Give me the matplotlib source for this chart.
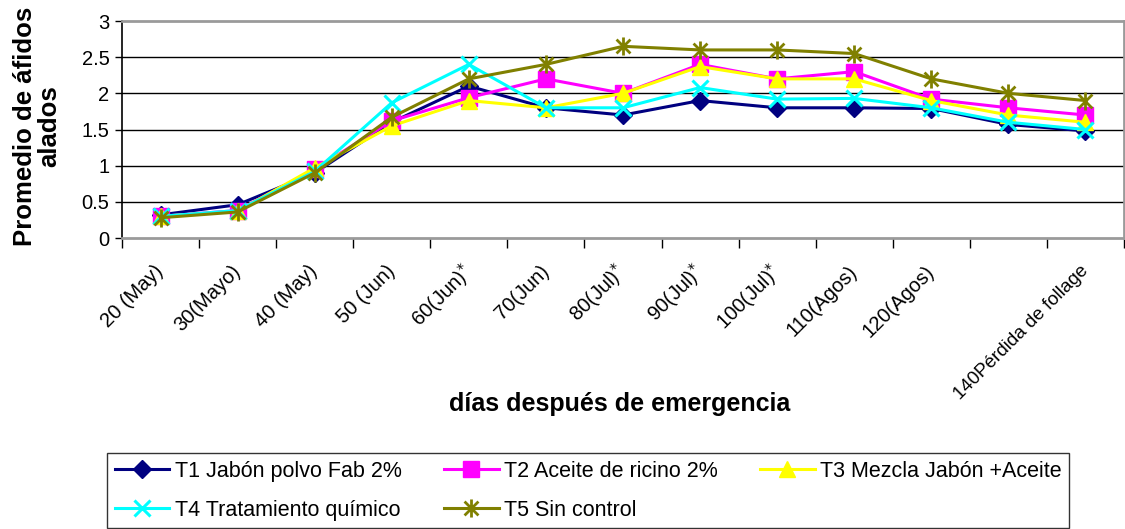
import numpy as np
import matplotlib.pyplot as plt
from matplotlib.path import Path

plt.rcParams['font.family'] = ['Liberation Sans', 'DejaVu Sans']

categorias = ['20 (May)', '30(Mayo)', '40 (May)', '50 (Jun)', '60(Jun)$^{*}$', '70(Jun)',
              '80(Jul)$^{*}$', '90(Jul)$^{*}$', '100(Jul)$^{*}$', '110(Agos)', '120(Agos)', '',
              '140Pérdida de follage']

t1 = [0.32, 0.46, 0.90, 1.60, 2.10, 1.80, 1.70, 1.90, 1.80, 1.80, 1.79, 1.57, 1.48]
t2 = [0.30, 0.38, 0.95, 1.62, 1.94, 2.20, 2.00, 2.40, 2.20, 2.30, 1.92, 1.80, 1.70]
t3 = [0.30, 0.37, 0.97, 1.55, 1.90, 1.80, 2.00, 2.37, 2.20, 2.20, 1.90, 1.70, 1.60]
t4 = [0.30, 0.38, 0.92, 1.87, 2.40, 1.80, 1.80, 2.08, 1.92, 1.93, 1.80, 1.60, 1.50]
t5 = [0.28, 0.36, 0.90, 1.67, 2.20, 2.40, 2.65, 2.60, 2.60, 2.55, 2.20, 2.00, 1.90]

nombres = ['T1 Jabón polvo Fab 2%', 'T2 Aceite de ricino 2%', 'T3 Mezcla Jabón +Aceite',
           'T4 Tratamiento químico', 'T5 Sin control']

# marcador asterisco tipo Excel: X con línea vertical
asterisco = Path([(-1, -1), (1, 1), (-1, 1), (1, -1), (0, -1.3), (0, 1.3)],
                 [Path.MOVETO, Path.LINETO, Path.MOVETO, Path.LINETO, Path.MOVETO, Path.LINETO])

W, H = 1125, 529
fig = plt.figure(figsize=(W / 100, H / 100), dpi=100)
ax = fig.add_axes([122 / W, 1 - 238 / H, (1124 - 122) / W, (238 - 21) / H])

x = np.arange(len(categorias))
estilos = [
    dict(color='#000080', marker='D', ms=9, mec='#000080', mfc='#000080'),
    dict(color='#FF00FF', marker='s', ms=11, mec='#FF00FF', mfc='#FF00FF'),
    dict(color='#FFFF00', marker='^', ms=12, mec='#FFFF00', mfc='#FFFF00'),
    dict(color='#00FFFF', marker='x', ms=11, mew=2.2),
    dict(color='#808000', marker=asterisco, ms=13, mew=2.0),
]
lineas = []
for serie, nombre, est in zip([t1, t2, t3, t4, t5], nombres, estilos):
    l, = ax.plot(x, serie, lw=2.2, label=nombre, zorder=3, **est)
    lineas.append(l)

ax.set_xlim(-0.5, len(categorias) - 0.5)
ax.set_ylim(0, 3)
ax.set_yticks(np.arange(0, 3.01, 0.5))
ax.set_yticklabels(['0', '0.5', '1', '1.5', '2', '2.5', '3'], fontsize=14.5)
ax.tick_params(axis='y', length=5, width=1, pad=4, color='black')
for yv in np.arange(0.5, 2.51, 0.5):
    ax.axhline(yv, color='black', lw=1, zorder=1)

# marcas en los límites de categoría, etiquetas en los centros
ax.set_xticks(np.arange(-0.5, len(categorias), 1.0))
ax.set_xticklabels([])
ax.tick_params(axis='x', which='major', length=7, width=1, color='black')
ax.set_xticks(x, minor=True)
ax.set_xticklabels(categorias, minor=True, rotation=45, ha='right', va='center',
                   rotation_mode='anchor', fontsize=14.5)
ax.tick_params(axis='x', which='minor', length=0, pad=22)
ax.get_xticklabels(minor=True)[-1].set_fontsize(13.5)

for lado in ['top', 'right', 'bottom']:
    ax.spines[lado].set_color('#9a9a9a')
    ax.spines[lado].set_linewidth(2)
ax.spines['left'].set_color('black')
ax.spines['left'].set_linewidth(1.2)

fig.text(37 / W, 1 - 126 / H, 'Promedio de áfidos\nalados', rotation=90, ha='center',
         va='center', multialignment='center', fontsize=18.5, fontweight='bold',
         linespacing=1.05)
fig.text(620 / W, 1 - 404 / H, 'días después de emergencia', ha='center', va='center',
         fontsize=18, fontweight='bold')

# orden por filas como en Excel
orden = [0, 3, 1, 4, 2]
leg = fig.legend(handles=[lineas[i] for i in orden], loc='upper left',
                 bbox_to_anchor=(107 / W, 1 - 453 / H), ncol=3, fontsize=15.5,
                 frameon=True, fancybox=False, handlelength=2.55, columnspacing=1.95,
                 borderpad=0.35, labelspacing=0.85, handletextpad=0.25, borderaxespad=0)
leg.get_frame().set_edgecolor('black')
leg.get_frame().set_linewidth(1)

fig.savefig('out.png', dpi=100)
